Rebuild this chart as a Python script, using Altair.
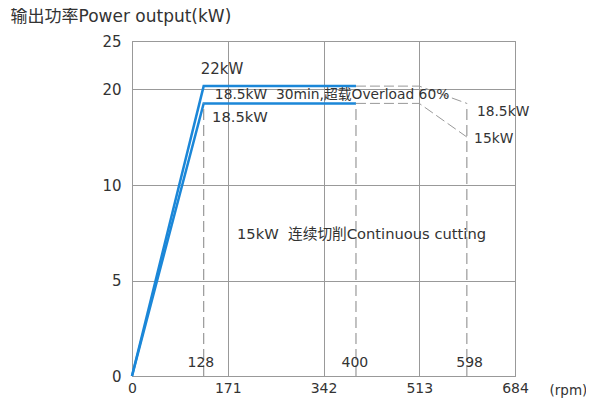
import altair as alt
import pandas as pd

# ---- data ----
rpm_ticks = [0, 171, 342, 513, 684]
kw_ticks = [0, 5, 10, 20, 25]

rated_rpm = [0, 128, 400]
power_22 = [0, 20.3, 20.3]
power_185 = [0, 18.5, 18.5]

overload_rpm = [400, 513, 598]
overload_hi = [20.3, 20.3, 18.5]
overload_lo = [18.5, 18.5, 15]

marker_rpm = [128, 400, 598]
marker_top = [18.5, 18.5, 18.5]
marker_labels = ["128", "400", "598"]

NB = "\u00a0"
FONT = "DejaVu Sans, Noto Sans CJK SC, sans-serif"
TXT = "#333333"
BLUE = "#1b87d8"
GREY = "#999999"

curves = pd.DataFrame(
    {"rpm": rated_rpm * 2, "kw": power_22 + power_185,
     "s": ["22"] * 3 + ["18.5"] * 3, "o": list(range(3)) * 2}
)
over = pd.DataFrame(
    {"rpm": overload_rpm * 2, "kw": overload_hi + overload_lo,
     "s": ["hi"] * 3 + ["lo"] * 3, "o": list(range(3)) * 2}
)
markers = pd.DataFrame({"rpm": marker_rpm, "kw": [0] * 3, "kw2": marker_top,
                        "label": marker_labels, "ly": [0.68] * 3,
                        "lx": [123, 398, 603]})

ann_left15 = pd.DataFrame({
    "rpm": [143, 187.5],
    "kw": [17.0, 7.4],
    "label": ["18.5kW", "15kW" + NB + NB + "连续切削Continuous cutting"],
})
ann_left14 = pd.DataFrame({
    "rpm": [148, 616, 611],
    "kw": [19.4, 17.6, 14.8],
    "label": ["18.5kW" + NB + NB + "30min,超载Overload 60%", "18.5kW", "15kW"],
})
ann_center = pd.DataFrame({"rpm": [160.7], "kw": [22.1], "label": ["22kW"]})

xenc = alt.X(
    "rpm:Q",
    scale=alt.Scale(domain=[0, 684], nice=False, zero=False),
    axis=alt.Axis(
        values=rpm_ticks, ticks=False, domain=False, grid=True,
        gridColor=GREY, gridWidth=1, labelFlush=False,
        labelFont=FONT, labelFontSize=14, labelColor=TXT, labelPadding=5,
        title="(rpm)", titleFont=FONT, titleFontSize=13.5,
        titleFontWeight="normal", titleColor=TXT, titleAlign="left",
        titleBaseline="middle", titleX=417, titleY=14,
    ),
)
yenc = alt.Y(
    "kw:Q",
    scale=alt.Scale(domain=[0, 10, 25], range=[335, 144, 0], nice=False, zero=False),
    axis=alt.Axis(
        values=kw_ticks, ticks=False, domain=False, grid=True,
        gridColor=GREY, gridWidth=1,
        labelFont=FONT, labelFontSize=15, labelColor=TXT, labelPadding=11,
        title="输出功率Power output(kW)", titleFont=FONT, titleFontSize=17,
        titleFontWeight="normal", titleColor=TXT, titleAngle=0,
        titleAlign="left", titleBaseline="middle", titleX=-122, titleY=-25,
    ),
)

base_curves = alt.Chart(curves).mark_line(color=BLUE, strokeWidth=2.5).encode(
    x=xenc, y=yenc, detail="s:N", order="o:Q"
)
over_lines = alt.Chart(over).mark_line(
    color=GREY, strokeWidth=1, strokeDash=[10, 4]
).encode(x="rpm:Q", y="kw:Q", detail="s:N", order="o:Q")

rules = alt.Chart(markers).mark_rule(
    color=GREY, strokeWidth=1.2, strokeDash=[11, 5]
).encode(x="rpm:Q", y="kw:Q", y2="kw2:Q")

marker_text = alt.Chart(markers).mark_text(
    font=FONT, fontSize=14, color=TXT, align="center", baseline="middle"
).encode(x="lx:Q", y="ly:Q", text="label:N")

t15 = alt.Chart(ann_left15).mark_text(
    font=FONT, fontSize=14.7, color=TXT, align="left", baseline="middle"
).encode(x="rpm:Q", y="kw:Q", text="label:N")
t14 = alt.Chart(ann_left14).mark_text(
    font=FONT, fontSize=13.8, color=TXT, align="left", baseline="middle"
).encode(x="rpm:Q", y="kw:Q", text="label:N")
tc = alt.Chart(ann_center).mark_text(
    font=FONT, fontSize=15, color=TXT, align="center", baseline="middle"
).encode(x="rpm:Q", y="kw:Q", text="label:N")

chart = (
    alt.layer(base_curves, over_lines, rules, marker_text, t15, t14, tc)
    .properties(
        width=383, height=335, autosize="none",
        padding={"left": 124, "top": 33, "right": 71, "bottom": 26},
        background="white",
    )
    .configure_view(stroke="#888888", strokeWidth=1)
)

chart.save("out.html", embed_options={"renderer": "svg", "actions": False})
